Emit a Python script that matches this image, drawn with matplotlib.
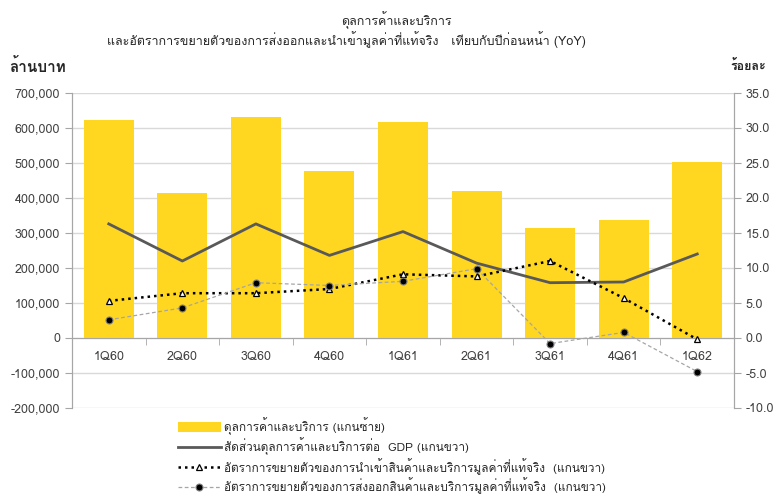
import numpy as np
import matplotlib
matplotlib.use("Agg")
import matplotlib.pyplot as plt
from matplotlib import font_manager
from matplotlib.ft2font import FT2Font
from matplotlib.ticker import FuncFormatter, FixedLocator

# data
quarters = ["1Q60", "2Q60", "3Q60", "4Q60", "1Q61", "2Q61", "3Q61", "4Q61", "1Q62"]
balance = [624000, 414000, 631000, 476000, 618000, 420000, 315000, 337000, 504000]   # ล้านบาท
ratio_gdp = [16.3, 11.0, 16.3, 11.8, 15.2, 10.7, 7.9, 8.0, 12.0]                  # ร้อยละ
import_growth = [5.3, 6.4, 6.4, 7.0, 9.1, 8.8, 11.0, 5.7, -0.2]
export_growth = [2.6, 4.3, 7.9, 7.5, 8.1, 9.9, -0.8, 0.8, -4.8]

labels = [
    "ดุลการค้าและบริการ (แกนซ้าย)",
    "สัดส่วนดุลการค้าและบริการต่อ  GDP (แกนขวา)",
    "อัตราการขยายตัวของการนำเข้าสินค้าและบริการมูลค่าที่แท้จริง  (แกนขวา)",
    "อัตราการขยายตัวของการส่งออกสินค้าและบริการมูลค่าที่แท้จริง  (แกนขวา)",
]


def find_thai_font():
    for f in font_manager.fontManager.ttflist:
        try:
            if 0x0E01 in FT2Font(f.fname).get_charmap():
                return f.name
        except Exception:
            pass
    return None


thai = find_thai_font()
families = ["DejaVu Sans"]
if thai:
    families = [thai, "DejaVu Sans"]
plt.rcParams["font.family"] = families

YELLOW = "#FFD620"
GRID = "#D9D9D9"
AXIS = "#A6A6A6"
TXT = "#404040"

fig = plt.figure(figsize=(7.82, 4.95), dpi=100)
ax = fig.add_axes([72 / 782, 1 - 408 / 495, 662 / 782, 315 / 495])
ax2 = ax.twinx()

x = np.arange(len(quarters))
bars = ax.bar(x, balance, width=0.68, color=YELLOW, zorder=2)

ax.set_xlim(-0.5, len(quarters) - 0.5)
ax.set_ylim(-200000, 700000)
ax.set_yticks(np.arange(-200000, 700001, 100000))
ax.yaxis.set_major_formatter(FuncFormatter(lambda v, p: f"{int(v):,}"))
ax.grid(axis="y", color=GRID, lw=1)
ax.set_axisbelow(True)

ax2.set_ylim(-10, 35)
ax2.set_yticks(np.arange(-10, 35.1, 5))
ax2.yaxis.set_major_formatter(FuncFormatter(lambda v, p: f"{v:.1f}"))

l1, = ax2.plot(x, ratio_gdp, color="#595959", lw=2)
l2, = ax2.plot(x, import_growth, color="black", lw=1.8, linestyle=(0, (1, 1.6)),
               marker="^", ms=5, mfc="white", mec="black", mew=0.9)
l3, = ax2.plot(x, export_growth, color="#A6A6A6", lw=0.9, linestyle=(0, (3, 2)),
               marker="o", ms=5, mfc="black", mec="#808080", mew=0.8)

for a in (ax, ax2):
    a.spines["top"].set_visible(False)
    a.spines["left"].set_color(AXIS)
    a.spines["right"].set_color(AXIS)
    a.tick_params(axis="y", colors=AXIS, labelcolor=TXT, labelsize=9, length=5)

ax.spines["bottom"].set_position(("data", 0))
ax.spines["bottom"].set_color(AXIS)
ax2.spines["bottom"].set_visible(False)
ax.set_xticks(x)
ax.set_xticklabels(quarters)
ax.xaxis.set_minor_locator(FixedLocator(np.arange(0.5, len(quarters) - 1, 1)))
ax.tick_params(axis="x", which="major", length=0, pad=9, labelsize=9, labelcolor=TXT)
ax.tick_params(axis="x", which="minor", length=5, color=AXIS)

fig.text(396 / 782, 1 - 20 / 495, "ดุลการค้าและบริการ", ha="center", va="center",
         fontsize=9, color="#262626")
fig.text(346 / 782, 1 - 40 / 495,
         "และอัตราการขยายตัวของการส่งออกและนำเข้ามูลค่าที่แท้จริง   เทียบกับปีก่อนหน้า (YoY)",
         ha="center", va="center", fontsize=9, color="#262626")
fig.text(9 / 782, 1 - 66 / 495, "ล้านบาท", ha="left", va="center", fontsize=11,
         fontweight="bold", color="#262626")
fig.text(766 / 782, 1 - 66 / 495, "ร้อยละ", ha="right", va="center", fontsize=9,
         fontweight="bold", color="#262626")

fig.legend([bars, l1, l2, l3], labels, loc="upper left",
           bbox_to_anchor=(178 / 782, 1 - 417 / 495), frameon=False, fontsize=8.5,
           handlelength=3.6, handleheight=0.9, handletextpad=0.3, labelspacing=0.22,
           borderaxespad=0, borderpad=0, labelcolor="#262626")

fig.savefig("out.png", dpi=100)
